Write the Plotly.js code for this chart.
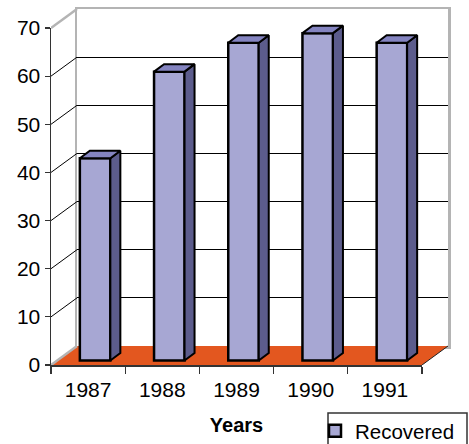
<!DOCTYPE html>
<html>
<head>
<meta charset="utf-8">
<script src="https://cdn.plot.ly/plotly-3.0.1.min.js"></script>
<style>html,body{margin:0;padding:0;background:#fff;}#chart{width:469px;height:444px;}</style>
</head>
<body>
<div id="chart"></div>
<script>
// ---- data ----
const years = ['1987', '1988', '1989', '1990', '1991'];
const recovered = [42, 60, 66, 68, 66];
const yTickVals = [0, 10, 20, 30, 40, 50, 60, 70];
const seriesName = 'Recovered';
const xTitle = 'Years';

// ---- geometry (pixels) ----
const W = 469, H = 444;
const L = 51, R = 448, T = 9, B = 365;       // plot area
const FRONT_R = 422, FRONT_T = 28;            // front frame
const DEPTH_X = 26, DEPTH_Y = 19;             // wall depth offset
const BAR_OFF_X = 7, BAR_OFF_Y = 4.5;         // bar front plane offset
const BAR_D_X = 10, BAR_D_Y = 7.5;            // bar depth
const BAR_W_PX = 30.5;

const pw = R - L, ph = B - T;
const n = years.length;
const U = (FRONT_R - L) / n;                  // px per category
const V = (B - FRONT_T) / 70;                 // px per value unit

// main drawing axes (x2/y2) cover whole plot area
const x2max = -0.5 + pw / U;
const y2max = ph / V;
const dX = DEPTH_X / U, dY = DEPTH_Y / V;
const bOX = BAR_OFF_X / U, bOY = BAR_OFF_Y / V;
const bDX = BAR_D_X / U, bDY = BAR_D_Y / V;
const bW = BAR_W_PX / U;

const font = 'Liberation Sans, Arial, sans-serif';
const cFront = '#a7a7d3', cSide = '#5c5c8c', cTop = '#8484c0';
const cFloor = '#e3571f', cWall = '#b4b4b4';

const idx = years.map((_, i) => i);

// side and top faces built from the values
const sideX = [], sideY = [], topX = [], topY = [];
recovered.forEach((v, i) => {
  const xl = i - bW / 2 + bOX, xr = i + bW / 2 + bOX;
  const y0 = bOY, y1 = bOY + v;
  sideX.push(xr, xr + bDX, xr + bDX, xr, xr, null);
  sideY.push(y0, y0 + bDY, y1 + bDY, y1, y0, null);
  topX.push(xl, xr, xr + bDX, xl + bDX, xl, null);
  topY.push(y1, y1, y1 + bDY, y1 + bDY, y1, null);
});

const traces = [
  {x: [], y: [], xaxis: 'x', yaxis: 'y', type: 'scatter', showlegend: false, hoverinfo: 'skip'},
  {
    type: 'bar', name: seriesName, x: idx, y: recovered, base: bOY,
    width: bW, offset: -bW / 2 + bOX, xaxis: 'x2', yaxis: 'y2',
    marker: {color: cFront, line: {color: '#000', width: 2.5}}, showlegend: true
  },
  {
    type: 'scatter', mode: 'lines', x: sideX, y: sideY, xaxis: 'x2', yaxis: 'y2',
    fill: 'toself', fillcolor: cSide, line: {color: '#000', width: 2}, showlegend: false, hoverinfo: 'skip'
  },
  {
    type: 'scatter', mode: 'lines', x: topX, y: topY, xaxis: 'x2', yaxis: 'y2',
    fill: 'toself', fillcolor: cTop, line: {color: '#000', width: 2}, showlegend: false, hoverinfo: 'skip'
  },
  {x: [], y: [], xaxis: 'x3', yaxis: 'y3', type: 'scatter', showlegend: false, hoverinfo: 'skip'}
];

// decoration shapes: floor and left wall
const shapes = [];
shapes.push({
  type: 'path', xref: 'x2', yref: 'y2', layer: 'below',
  path: `M${-0.5},0 L${n - 0.5},0 L${n - 0.5 + dX},${dY} L${-0.5 + dX},${dY} Z`,
  fillcolor: cFloor, line: {width: 0}
});
shapes.push({
  type: 'line', xref: 'x2', yref: 'y2', layer: 'below',
  x0: n - 0.5, y0: 0, x1: n - 0.5 + dX, y1: dY, line: {color: '#222', width: 1}
});
yTickVals.forEach((t) => {
  const edge = (t === 0 || t === 70);
  shapes.push({
    type: 'line', xref: 'x2', yref: 'y2', layer: 'below',
    x0: -0.5, y0: t, x1: -0.5 + dX, y1: t + dY,
    line: {color: edge ? cWall : '#000', width: edge ? 2.5 : 1}
  });
});
// legend frame
shapes.push({
  type: 'rect', xref: 'paper', yref: 'paper', layer: 'above',
  x0: (328 - L) / pw, x1: (467 - L) / pw, y0: (B - 448) / ph, y1: (B - 413) / ph,
  line: {color: '#333', width: 1.5}, fillcolor: 'rgba(0,0,0,0)'
});

const layout = {
  width: W, height: H,
  margin: {l: L, r: W - R, t: T, b: H - B, pad: 0, autoexpand: false},
  paper_bgcolor: '#fff', plot_bgcolor: 'rgba(0,0,0,0)',
  font: {family: font, size: 20, color: '#000'},
  showlegend: true, hovermode: false, bargap: 0,
  // back wall
  xaxis: {
    domain: [DEPTH_X / pw, 1], range: [0, 1], anchor: 'y',
    showline: true, mirror: true, linecolor: cWall, linewidth: 2.5,
    showgrid: false, zeroline: false, showticklabels: false, ticks: '', fixedrange: true
  },
  yaxis: {
    domain: [DEPTH_Y / ph, 1], range: [0, 70], anchor: 'x',
    showline: true, mirror: true, linecolor: cWall, linewidth: 2.5,
    showgrid: true, gridcolor: '#000', gridwidth: 1, tickvals: yTickVals,
    zeroline: false, showticklabels: false, ticks: '', fixedrange: true
  },
  // main drawing space
  xaxis2: {domain: [0, 1], range: [-0.5, x2max], anchor: 'y2', visible: false, fixedrange: true},
  yaxis2: {domain: [0, 1], range: [0, y2max], anchor: 'x2', visible: false, fixedrange: true},
  // front axes
  xaxis3: {
    domain: [0, (FRONT_R - L) / pw], range: [-0.5, n - 0.5], anchor: 'y3',
    tickmode: 'array', tickvals: idx, ticktext: years, ticks: '',
    minor: {tick0: -0.5, dtick: 1, ticks: 'outside', ticklen: 7, tickcolor: '#333', tickwidth: 1.2},
    showline: true, linecolor: '#333', linewidth: 1.5, showgrid: false, zeroline: false,
    tickfont: {size: 21, family: font, color: '#000'}, ticklabelstandoff: 5,
    title: {text: '<b>' + xTitle + '</b>', font: {size: 20, family: font, color: '#000'}, standoff: 18},
    fixedrange: true
  },
  yaxis3: {
    domain: [0, (B - FRONT_T) / ph], range: [0, 70], anchor: 'x3',
    tickmode: 'array', tickvals: yTickVals, ticks: 'outside', ticklen: 5, tickcolor: '#333', tickwidth: 1.2,
    showline: true, linecolor: '#333', linewidth: 1.5, showgrid: false, zeroline: false,
    tickfont: {size: 21, family: font, color: '#000'}, fixedrange: true
  },
  legend: {
    x: (315 - L) / pw, xanchor: 'left', y: (B - 411) / ph, yanchor: 'top',
    borderwidth: 0, bgcolor: 'rgba(0,0,0,0)',
    font: {size: 20.5, family: font, color: '#000'}
  },
  shapes: shapes
};

Plotly.newPlot('chart', traces, layout, {displayModeBar: false, staticPlot: true});
</script>
</body>
</html>
